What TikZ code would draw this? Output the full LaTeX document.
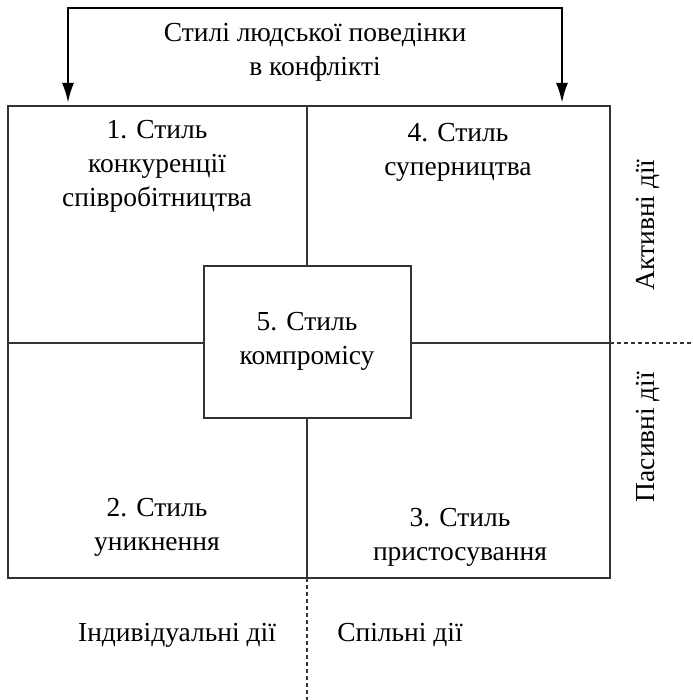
\documentclass[tikz,border=0pt]{standalone}
\usepackage{fontspec}
\setmainfont{Liberation Serif}
\usetikzlibrary{arrows.meta}
\begin{document}
\begin{tikzpicture}[x=1pt,y=-1pt,
  txt/.style={align=center,font=\fontsize{27.5}{34}\selectfont,inner sep=0pt},
  frame/.style={line width=1.4pt,draw=black!80},
  dashline/.style={line width=1.2pt,draw=black!80,dash pattern=on 4pt off 3pt},
  bigarrow/.style={line width=2.6pt,-{Latex[length=20pt,width=12pt]}}]
\useasboundingbox (0,0) rectangle (692,700);
% outer frame
\coordinate (tl) at (8,106);
\coordinate (br) at (610,578);
\coordinate (mt) at (307,106);
\coordinate (mb) at (307,578);
\coordinate (ml) at (8,343);
\coordinate (mr) at (610,343);
\coordinate (dr) at (692,343);
\coordinate (db) at (307,700);
\draw[frame] (tl) rectangle (br);
\draw[frame] (mt) -- (mb);
\draw[frame] (ml) -- (mr);
\node[frame,fill=white,minimum width=207pt,minimum height=152pt,inner sep=0pt] (c5) at (307.5,342) {};
\draw[dashline] (mr) -- (dr);
\draw[dashline] (mb) -- (db);
% top arrows
\coordinate (al) at (68,103);
\coordinate (ar) at (562,103);
\coordinate (tlc) at (68,8);
\coordinate (trc) at (562,8);
\draw[bigarrow] (trc) -- (tlc) -- (al);
\draw[bigarrow] (tlc) -- (trc) -- (ar);
\node[txt] (title) at (315,52) {Стилі людської поведінки\\в конфлікті};
% cell texts
\node[txt] (s1) at (157,166) {1. Стиль\\конкуренції\\співробітництва};
\node[txt] (s4) at (458,152) {4. Стиль\\суперництва};
\node[txt] (s5) at (307,341) {5. Стиль\\компромісу};
\node[txt] (s2) at (157,527) {2. Стиль\\уникнення};
\node[txt] (s3) at (460,537) {3. Стиль\\пристосування};
\node[txt] (ind) at (177,635) {Індивідуальні дії};
\node[txt] (sp) at (400,635) {Спільні дії};
\node[txt,rotate=90] (act) at (648,225) {Активні дії};
\node[txt,rotate=90] (pas) at (648,437) {Пасивні дії};
\end{tikzpicture}
\end{document}
